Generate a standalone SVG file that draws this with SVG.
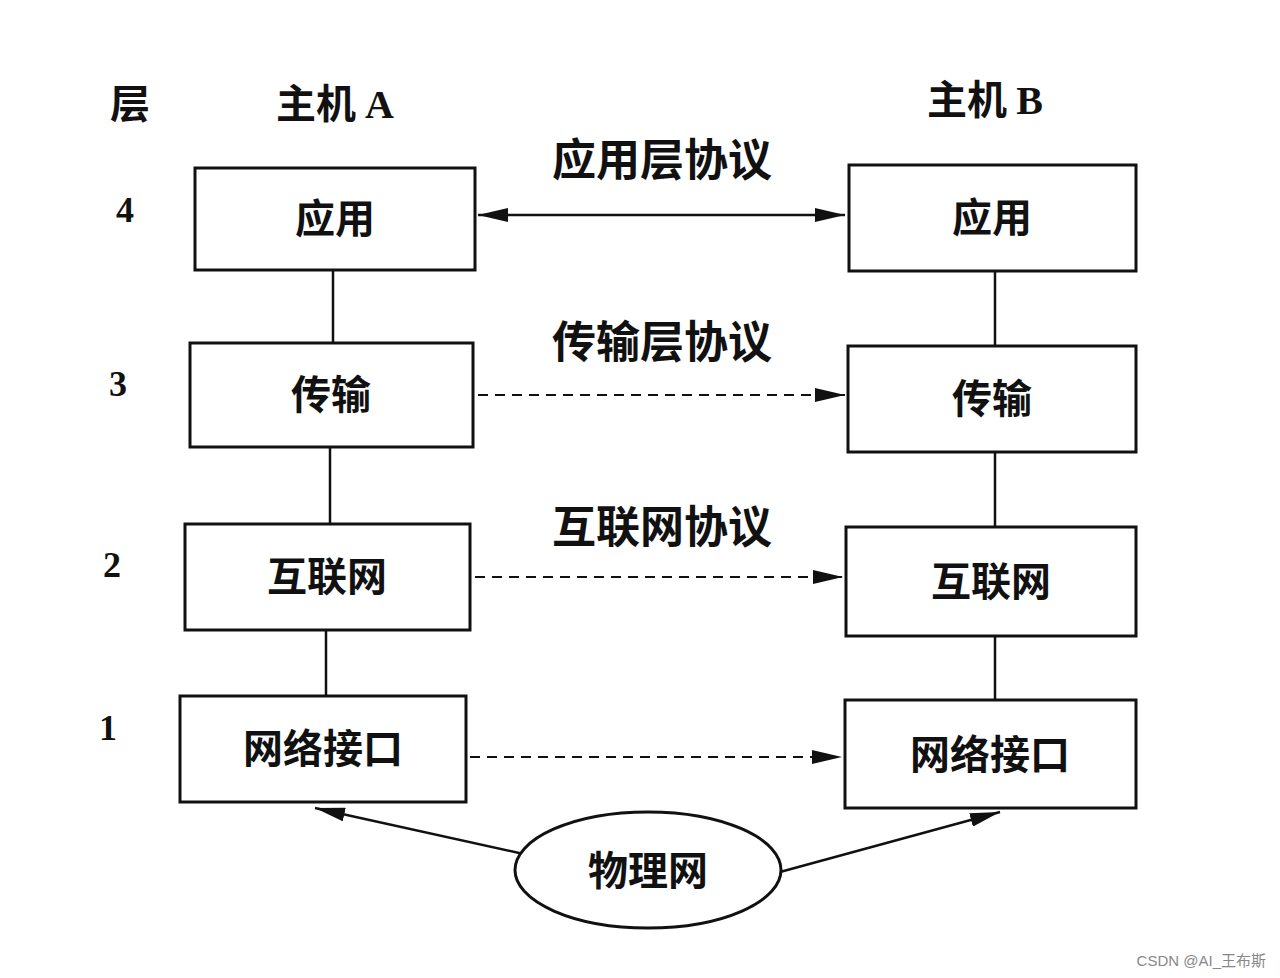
<svg xmlns="http://www.w3.org/2000/svg" width="1280" height="978" viewBox="0 0 1280 978">
<defs>
<style>
.b{fill:#fff;stroke:#111;stroke-width:3}
.t{font-family:"Noto Sans CJK SC","Liberation Serif",sans-serif;font-size:40px;fill:#111;text-anchor:middle;font-weight:bold}
.p{font-size:44px}
.n{font-family:"Liberation Serif",serif;font-size:36px;fill:#111;text-anchor:middle;font-weight:bold}
.l{stroke:#111;stroke-width:2.5;fill:none}
.d{stroke:#111;stroke-width:2;fill:none;stroke-dasharray:10 7}
</style>
<marker id="a" viewBox="0 0 30 14" refX="30" refY="7" markerWidth="30" markerHeight="14" markerUnits="userSpaceOnUse" orient="auto-start-reverse"><path d="M0,0L30,7L0,14z" fill="#111"/></marker>
</defs>
<rect width="1280" height="978" fill="#fff"/>
<text class="t" x="130" y="118">层</text>
<text class="t" x="335" y="118">主机 <tspan font-family="Liberation Serif">A</tspan></text>
<text class="t" x="985" y="114">主机 <tspan font-family="Liberation Serif">B</tspan></text>
<text class="n" x="125" y="222">4</text>
<text class="n" x="118" y="396">3</text>
<text class="n" x="112" y="577">2</text>
<text class="n" x="108" y="740">1</text>
<g id="connectors">
<line class="l" x1="333" y1="270" x2="333" y2="343"/>
<line class="l" x1="330" y1="447" x2="330" y2="524"/>
<line class="l" x1="326" y1="630" x2="326" y2="696"/>
<line class="l" x1="995" y1="271" x2="995" y2="346"/>
<line class="l" x1="995" y1="452" x2="995" y2="527"/>
<line class="l" x1="995" y1="636" x2="995" y2="700"/>
<line class="l" x1="478" y1="215" x2="845" y2="215" marker-start="url(#a)" marker-end="url(#a)"/>
<line class="d" x1="478" y1="395" x2="845" y2="395" marker-end="url(#a)"/>
<line class="d" x1="475" y1="577" x2="843" y2="577" marker-end="url(#a)"/>
<line class="d" x1="470" y1="757" x2="842" y2="757" marker-end="url(#a)"/>
<line class="l" x1="528" y1="855" x2="315" y2="808" marker-end="url(#a)"/>
<line class="l" x1="780" y1="872" x2="1000" y2="812" marker-end="url(#a)"/>
</g>
<text class="t p" x="662" y="176">应用层协议</text>
<text class="t p" x="662" y="358">传输层协议</text>
<text class="t p" x="662" y="543">互联网协议</text>
<g id="a4"><rect class="b" x="195" y="168" width="280" height="102"/><text class="t" x="335" y="233">应用</text></g>
<g id="a3"><rect class="b" x="190" y="343" width="283" height="104"/><text class="t" x="331" y="409">传输</text></g>
<g id="a2"><rect class="b" x="185" y="524" width="285" height="106"/><text class="t" x="327" y="591">互联网</text></g>
<g id="a1"><rect class="b" x="180" y="696" width="286" height="106"/><text class="t" x="323" y="763">网络接口</text></g>
<g id="b4"><rect class="b" x="849" y="165" width="287" height="106"/><text class="t" x="992" y="232">应用</text></g>
<g id="b3"><rect class="b" x="848" y="346" width="288" height="106"/><text class="t" x="992" y="413">传输</text></g>
<g id="b2"><rect class="b" x="846" y="527" width="290" height="109"/><text class="t" x="991" y="596">互联网</text></g>
<g id="b1"><rect class="b" x="845" y="700" width="291" height="108"/><text class="t" x="990" y="769">网络接口</text></g>
<g id="phy"><ellipse class="b" cx="648" cy="870" rx="133" ry="58"/><text class="t" x="648" y="885">物理网</text></g>
<text x="1266" y="966" text-anchor="end" font-family="Liberation Sans,Noto Sans CJK SC,sans-serif" font-size="15" fill="#888">CSDN @AI_王布斯</text>
</svg>
